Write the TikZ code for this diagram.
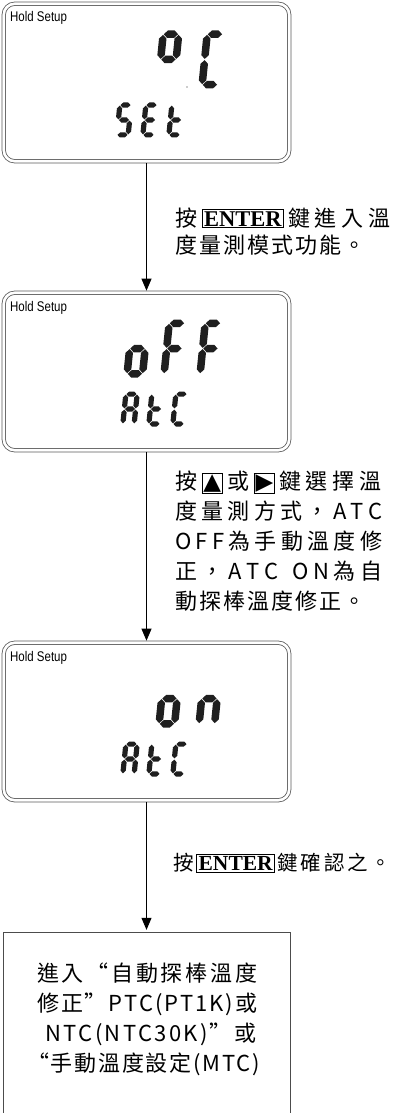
\documentclass[tikz,border=0pt]{standalone}
\usepackage{fontspec}
\usetikzlibrary{arrows.meta}
\setmainfont{Liberation Sans}
\newfontfamily\cjk{Noto Sans CJK TC}
\newfontfamily\entf{Liberation Serif}
\newfontfamily\symf{DejaVu Sans}
\makeatletter
\newcommand\spreadline[2]{\makebox[#1][s]{\@tfor\sx:=#2\do{\sx\hfil}\unskip}}
\makeatother
\newcommand\keyE{{\setlength\fboxsep{1.3pt}\setlength\fboxrule{0.9pt}\fbox{\entf\bfseries\fontsize{22.5}{22.5}\selectfont ENTER}}}
\newcommand\keyEs{{\setlength\fboxsep{1.3pt}\setlength\fboxrule{0.9pt}\fbox{\entf\bfseries\fontsize{21.5}{21.5}\selectfont ENTER}}}
\newcommand\upk{{\setlength\fboxsep{0.8pt}\setlength\fboxrule{0.8pt}\fbox{\symf\fontsize{23}{23}\selectfont ▲}}}
\newcommand\rtk{{\setlength\fboxsep{0.8pt}\setlength\fboxrule{0.8pt}\fbox{\symf\fontsize{23}{23}\selectfont ▶}}}
% seven segment drawing
\newcommand\hsg[3]{\fill[seg] ({#1},{#3}) -- ({#1+\dT/2},{#3+\dT/2}) -- ({#2-\dT/2},{#3+\dT/2}) -- ({#2},{#3}) -- ({#2-\dT/2},{#3-\dT/2}) -- ({#1+\dT/2},{#3-\dT/2}) -- cycle;}
\newcommand\vsg[3]{\fill[seg] ({#1},{#2}) -- ({#1+\dT/2},{#2+\dT/2}) -- ({#1+\dT/2},{#3-\dT/2}) -- ({#1},{#3}) -- ({#1-\dT/2},{#3-\dT/2}) -- ({#1-\dT/2},{#2+\dT/2}) -- cycle;}
\def\dsega{\hsg{\dT/2+0.6}{\dW-\dT/2-0.6}{\dH-\dT/2}}
\def\dsegg{\hsg{\dT/2+0.6}{\dW-\dT/2-0.6}{\dH/2}}
\def\dsegd{\hsg{\dT/2+0.6}{\dW-\dT/2-0.6}{\dT/2}}
\def\dsegf{\vsg{\dT/2}{\dH/2+0.6}{\dH-\dT/2-0.6}}
\def\dsegb{\vsg{\dW-\dT/2}{\dH/2+0.6}{\dH-\dT/2-0.6}}
\def\dsege{\vsg{\dT/2}{\dT/2+0.6}{\dH/2-0.6}}
\def\dsegc{\vsg{\dW-\dT/2}{\dT/2+0.6}{\dH/2-0.6}}
\newcommand\segchar[6]{%
  \begin{scope}[shift={(#1,#2)}, y=1pt, xslant=0.1]
    \def\dW{#3}\def\dH{#4}\def\dT{#5}%
    \foreach \s in {#6}{\csname dseg\s\endcsname}
  \end{scope}}
\newcommand\bigd[3]{\segchar{#1}{#2}{23}{58}{7.5}{#3}}
\newcommand\smd[3]{\segchar{#1}{#2}{16.5}{35}{5.2}{#3}}
\begin{document}
\begin{tikzpicture}[x=1pt,y=-1pt,
  seg/.style={fill=black!88},
  lcd/.style={draw=black!65, double=white, double distance=2.6pt, line width=0.8pt,
    rounded corners=11pt, minimum width=285.5pt, minimum height=157.5pt, inner sep=0pt},
  endbox/.style={draw=black!70, line width=0.9pt, minimum width=287pt, minimum height=193pt, inner sep=0pt},
  flow/.style={line width=0.9pt, -{Triangle[length=12pt,width=10pt]}, shorten <=1.7pt, shorten >=1.7pt},
  hold/.style={anchor=base west, inner sep=0pt, font=\fontsize{14}{14}\selectfont},
  txt/.style={anchor=base west, inner sep=0pt, font=\cjk\fontsize{22}{26}\selectfont}]
\useasboundingbox (0,0) rectangle (393,1113);

\node[lcd] (b1) at (146.5,82.5) {};
\node[lcd] (b2) at (146.5,371.5) {};
\node[lcd] (b3) at (146.5,721.5) {};
\node[endbox] (b4) at (146.5,1028.5) {};

\node[hold] (h1) at (10,22) {\scalebox{0.82}[1]{Hold Setup}};
\node[hold] (h2) at (10,311) {\scalebox{0.82}[1]{Hold Setup}};
\node[hold] (h3) at (10,661) {\scalebox{0.82}[1]{Hold Setup}};

% box 1 : degree C / SEt
\bigd{154}{88.5}{a,b,f,g}
\bigd{198}{88.5}{a,f,e,d}
\fill[black!40] (187,87) circle (0.8);
\smd{114}{137.5}{a,f,g,c,d}
\smd{140}{137.5}{a,f,g,e,d}
\smd{166}{137.5}{f,e,d,g}
% box 2 : oFF / AtC
\bigd{123}{377.5}{c,d,e,g}
\bigd{160}{377.5}{a,f,g,e}
\bigd{196}{377.5}{a,f,g,e}
\smd{120}{426.5}{a,b,c,e,f,g}
\smd{146}{426.5}{f,e,d,g}
\smd{170}{426.5}{a,f,e,d}
% box 3 : on / AtC
\bigd{155}{727.5}{c,d,e,g}
\bigd{195}{727.5}{c,e,g}
\smd{120}{776.5}{a,b,c,e,f,g}
\smd{146}{776.5}{f,e,d,g}
\smd{170}{776.5}{a,f,e,d}

\draw[flow] (b1.south) -- (b2.north);
\draw[flow] (b2.south) -- (b3.north);
\draw[flow] (b3.south) -- (b4.north);

\node[txt] (t11) at (175,226) {\spreadline{215pt}{按{\keyE}鍵進入溫}};
\node[txt] (t12) at (175,253) {\spreadline{190pt}{度量測模式功能。}};

\node[txt] (t21) at (175,489) {\spreadline{206pt}{按{\upk}或{\rtk}鍵選擇溫}};
\node[txt] (t22) at (175,519) {\spreadline{207pt}{度量測方式，ATC}};
\node[txt] (t23) at (175,549) {\spreadline{207pt}{OFF為手動溫度修}};
\node[txt] (t24) at (175,579) {\spreadline{207pt}{正，ATC{\ }ON為自}};
\node[txt] (t25) at (175,609) {\spreadline{190pt}{動探棒溫度修正。}};

\node[txt, font=\cjk\fontsize{20.5}{24}\selectfont] (t31) at (173,870.5) {\spreadline{218pt}{按{\keyEs}鍵確認之。}};

\node[txt] (t41) at (37,981) {\spreadline{220pt}{進入“自動探棒溫度}};
\node[txt] (t42) at (37,1011) {\spreadline{220pt}{修正”PTC(PT1K)或}};
\node[txt] (t43) at (45,1041) {\spreadline{211pt}{NTC(NTC30K)”或}};
\node[txt] (t44) at (27,1071) {\spreadline{233pt}{“手動溫度設定(MTC)}};
\end{tikzpicture}
\end{document}
